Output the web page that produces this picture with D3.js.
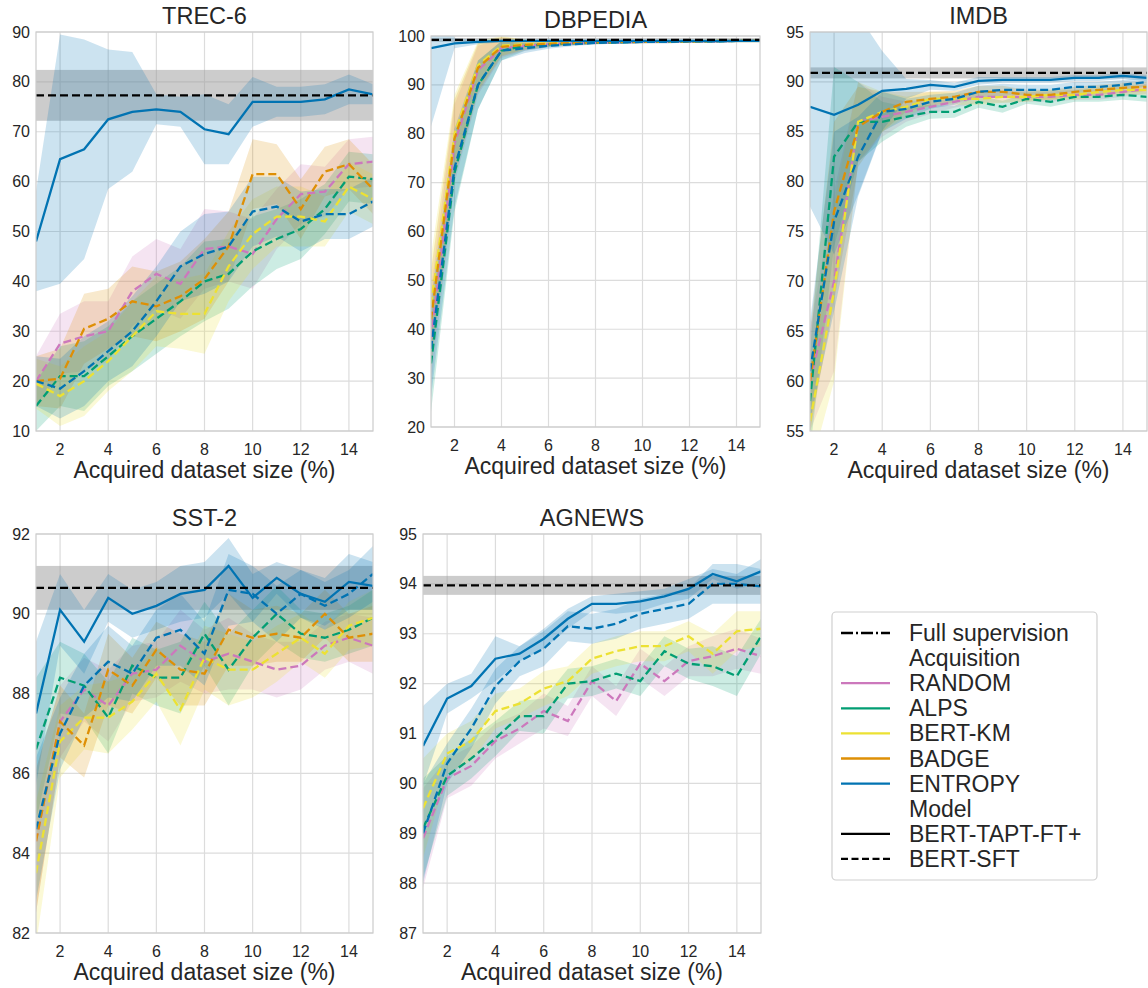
<!DOCTYPE html>
<html><head><meta charset="utf-8">
<script src="https://cdn.jsdelivr.net/npm/d3@7"></script>
<style>body{margin:0;background:#fff}text{font-family:Arial,"Liberation Sans",sans-serif;fill:#262626}</style>
</head><body><svg id="c" width="1148" height="988"></svg>
<script>
const xs = [1,2,3,4,5,6,7,8,9,10,11,12,13,14,15];
const xTicks = [2,4,6,8,10,12,14];
const acquisitions = ["RANDOM","ALPS","BERT-KM","BADGE","ENTROPY"];
const colors = ["#cc78bc","#029e73","#ece133","#de8f05","#0173b2"];

// TREC-6
const trecRandom = [20,27.5,29,30,38,41.5,39.5,46.5,47,45.5,52.5,57.5,58,63.5,64];
const trecAlps   = [15,21,21,25,29,32.5,36,40,41.5,46,48.5,50.5,54.5,61,60.5];
const trecKm     = [19.5,17,20,24,29,34,33.5,33.5,43,49.5,53,53,52,59,56.5];
const trecBadge  = [20,20.5,30.5,32.5,36,35,37,40.5,47,61.5,61.5,54.5,62,63.5,58.5];
const trecEnt    = [20,18.5,22,26,30,36,43,45.5,47,54,55,52,53.5,53.5,56];
const trecTapt   = [48,64.5,66.5,72.5,74,74.5,74,70.5,69.5,76,76,76,76.5,78.5,77.5];
const trecSpread = [5,6,7,6,7,7,7,8,7,7,6,6,5,5,5];
const trecTaptSpread = [10,25,22,14,12,3,3,7,6,5,3,3,3,3,2];
// DBPEDIA
const dbRandom = [38,78,93,97.5,98,98.3,98.5,98.6,98.7,98.8,98.8,98.9,98.9,99,99];
const dbAlps   = [33,72,90,97,98,98.3,98.5,98.6,98.7,98.8,98.8,98.9,98.9,99,99];
const dbKm     = [45,80,94,98,98.3,98.5,98.6,98.7,98.8,98.8,98.9,98.9,99,99,99];
const dbBadge  = [42,79,93.5,97.8,98.2,98.4,98.6,98.7,98.8,98.8,98.9,98.9,99,99,99];
const dbEnt    = [36,73,90,97,97.5,98,98.3,98.6,98.7,98.8,98.8,98.9,98.9,99,99];
const dbTapt   = [97.5,98.5,98.8,99,99,99,99,99,99,99,99,99,99,99,99];
const dbSpread = [10,8,5,2,1,0.6,0.4,0.3,0.3,0.3,0.3,0.3,0.3,0.3,0.3];
const dbTaptSpread = [16,1,0.5,0.3,0.2,0.2,0.2,0.2,0.2,0.2,0.2,0.2,0.2,0.2,0.2];
// IMDB
const imRandom = [60,70,86,86.5,87,87.5,88,88.5,88.5,88.5,88.5,88.7,88.7,89,89.3];
const imAlps   = [58,82.5,86,86,86.5,87,87,88,87.5,88.3,88,88.5,88.5,88.7,88.5];
const imKm     = [56,69,86,87,87.5,88.3,88.3,88.3,88.5,88.5,88.7,88.7,89,89.2,89.2];
const imBadge  = [60,77,85.5,87,88,88.3,88.5,89,89,88.7,88.7,89,89.2,89.4,89.5];
const imEnt    = [61,76,82.5,87,87.3,88,88.3,89,89.2,89.2,89.2,89.5,89.5,89.7,90];
const imTapt   = [87.5,86.7,87.7,89.1,89.3,89.7,89.5,90.1,90.2,90.2,90.2,90.4,90.4,90.6,90.4];
const imSpread = [5,9,4,2,1,0.7,0.6,0.6,0.6,0.5,0.5,0.5,0.5,0.5,0.5];
const imTaptSpread = [10,14,9,4,1,0.5,0.4,0.4,0.3,0.3,0.3,0.3,0.3,0.3,0.3];
// SST-2
const sstRandom = [84.3,87.3,88.1,87.7,88.5,88.6,89.2,88.8,89,88.8,88.6,88.7,89.2,89.4,89.2];
const sstAlps   = [86.6,88.4,88.2,87.4,88.7,88.4,88.4,89.5,88.6,89.4,90,89.5,89.4,89.6,89.9];
const sstKm     = [83.5,86.8,87.4,87.4,87.8,88.5,87.6,88.9,88.6,88.6,89,89.4,89,89.7,89.9];
const sstBadge  = [84.3,87.3,86.7,88.6,88.2,89.1,88.6,88.5,89.6,89.4,89.5,89.4,90,89.4,89.5];
const sstEnt    = [84.6,87,88.2,88.8,88.5,89.4,89.6,89,90.6,90.5,90,90.5,90.2,90.5,91];
const sstTapt   = [87.5,90.1,89.3,90.4,90,90.2,90.5,90.6,91.2,90.4,90.9,90.5,90.3,90.8,90.7];
const sstSpread = [1.8,0.9,0.8,0.9,0.7,0.7,0.9,0.8,0.9,0.7,0.7,0.6,0.6,0.6,0.7];
const sstTaptSpread = [1.8,0.9,0.8,0.6,0.6,0.6,0.7,0.7,0.7,0.6,0.4,0.6,0.6,0.7,0.6];
// AGNEWS
const agRandom = [88.9,90.1,90.35,90.85,91.1,91.45,91.25,92.05,91.65,92.4,92.05,92.45,92.55,92.7,92.55];
const agAlps   = [89.1,90.15,90.5,90.9,91.35,91.35,92,92.05,92.2,92.05,92.65,92.4,92.35,92.15,92.95];
const agKm     = [89.5,90.6,90.85,91.45,91.6,91.9,92.05,92.5,92.65,92.75,92.75,92.95,92.6,93.05,93.1];
const agEnt    = [89,90.4,91.1,91.95,92.45,92.7,93.15,93.1,93.2,93.4,93.5,93.6,94,94,93.95];
const agTapt   = [90.75,91.7,91.95,92.5,92.6,92.9,93.3,93.6,93.6,93.65,93.75,93.9,94.2,94.05,94.25];
const agSpread = [1,0.4,0.4,0.35,0.3,0.35,0.3,0.3,0.3,0.3,0.3,0.3,0.4,0.4,0.35];
const agTaptSpread = [0.8,0.3,0.25,0.45,0.15,0.2,0.2,0.15,0.2,0.2,0.15,0.2,0.1,0.15,0.25];

const titles = ["TREC-6","DBPEDIA","IMDB","SST-2","AGNEWS"];
const yDomains = [[10,90],[20,100],[55,95],[82,92],[87,95]];
const yTickSteps = [10,10,5,2,1];
const fullMean = [77.3,99.2,90.9,90.65,93.97];
const fullSpread = [5.1,0.4,0.55,0.55,0.19];

const panels = [
 {sft:[trecRandom,trecAlps,trecKm,trecBadge,trecEnt],tapt:trecTapt,sp:trecSpread,tsp:trecTaptSpread,box:[36,373,32,431]},
 {sft:[dbRandom,dbAlps,dbKm,dbBadge,dbEnt],tapt:dbTapt,sp:dbSpread,tsp:dbTaptSpread,box:[431,760,36,427]},
 {sft:[imRandom,imAlps,imKm,imBadge,imEnt],tapt:imTapt,sp:imSpread,tsp:imTaptSpread,box:[810,1147,32,431]},
 {sft:[sstRandom,sstAlps,sstKm,sstBadge,sstEnt],tapt:sstTapt,sp:sstSpread,tsp:sstTaptSpread,box:[36,373,534,933]},
 {sft:[agRandom,agAlps,agKm,null,agEnt],tapt:agTapt,sp:agSpread,tsp:agTaptSpread,box:[423,761,534,933]}
];

const svg = d3.select("#c");
panels.forEach((p,i)=>{
  const [l,r,t,b] = p.box;
  const x = d3.scaleLinear().domain([1,15]).range([l,r]);
  const y = d3.scaleLinear().domain(yDomains[i]).range([b,t]);
  const g = svg.append("g");
  const cid = "clip"+i;
  g.append("clipPath").attr("id",cid).append("rect").attr("x",l).attr("y",t).attr("width",r-l).attr("height",b-t);
  const yt = d3.range(yDomains[i][0],yDomains[i][1]+0.001,yTickSteps[i]);
  g.selectAll(".gy").data(yt).join("line").attr("x1",l).attr("x2",r).attr("y1",d=>y(d)).attr("y2",d=>y(d)).attr("stroke","#dcdcdc").attr("stroke-width",1.2);
  g.selectAll(".gx").data(xTicks).join("line").attr("y1",t).attr("y2",b).attr("x1",d=>x(d)).attr("x2",d=>x(d)).attr("stroke","#dcdcdc").attr("stroke-width",1.2);
  const c = g.append("g").attr("clip-path",`url(#${cid})`);
  c.append("rect").attr("x",l).attr("width",r-l).attr("y",y(fullMean[i]+fullSpread[i])).attr("height",y(fullMean[i]-fullSpread[i])-y(fullMean[i]+fullSpread[i])).attr("fill","#999").attr("opacity",0.5);
  const area = (vals,sp)=>d3.area().x((d,k)=>x(xs[k])).y0((d,k)=>y(d-sp[k])).y1((d,k)=>y(d+sp[k]))(vals);
  const line = vals=>d3.line().x((d,k)=>x(xs[k])).y(d=>y(d))(vals);
  p.sft.forEach((s,j)=>{ if(s) c.append("path").attr("d",area(s,p.sp)).attr("fill",colors[j]).attr("opacity",0.2);});
  c.append("path").attr("d",area(p.tapt,p.tsp)).attr("fill",colors[4]).attr("opacity",0.2);
  p.sft.forEach((s,j)=>{ if(s) c.append("path").attr("d",line(s)).attr("fill","none").attr("stroke",colors[j]).attr("stroke-width",2.3).attr("stroke-dasharray","8,4");});
  c.append("path").attr("d",line(p.tapt)).attr("fill","none").attr("stroke",colors[4]).attr("stroke-width",2.3);
  c.append("line").attr("x1",l).attr("x2",r).attr("y1",y(fullMean[i])).attr("y2",y(fullMean[i])).attr("stroke","#000").attr("stroke-width",2.3).attr("stroke-dasharray","8,4");
  g.append("rect").attr("x",l).attr("y",t).attr("width",r-l).attr("height",b-t).attr("fill","none").attr("stroke","#cccccc").attr("stroke-width",1.2);
  g.selectAll(".ty").data(yt).join("text").attr("x",l-6).attr("y",d=>y(d)).attr("dy","0.35em").attr("text-anchor","end").attr("font-size",16).text(d=>d);
  g.selectAll(".tx").data(xTicks).join("text").attr("x",d=>x(d)).attr("y",b+24).attr("text-anchor","middle").attr("font-size",16).text(d=>d);
  g.append("text").attr("x",(l+r)/2).attr("y",b+47).attr("text-anchor","middle").attr("font-size",23).text("Acquired dataset size (%)");
  g.append("text").attr("x",(l+r)/2).attr("y",t-8).attr("text-anchor","middle").attr("font-size",23.5).text(titles[i]);
});

const lg = svg.append("g");
lg.append("rect").attr("x",832).attr("y",612).attr("width",265).attr("height",268).attr("rx",4).attr("fill","#fff").attr("stroke","#d0d0d0").attr("stroke-width",1.2);
const items = [
 {t:"Full supervision",c:"#000",dash:"12,3,2,3"},
 {t:"Acquisition",c:null},
 ...acquisitions.map((a,j)=>({t:a,c:colors[j],dash:null})),
 {t:"Model",c:null},
 {t:"BERT-TAPT-FT+",c:"#000",dash:null},
 {t:"BERT-SFT",c:"#000",dash:"7,3.5"}
];
items.forEach((it,k)=>{
  const yy = 633 + k*25.1;
  if(it.c) lg.append("line").attr("x1",841).attr("x2",890).attr("y1",yy).attr("y2",yy).attr("stroke",it.c).attr("stroke-width",2.3).attr("stroke-dasharray",it.dash);
  lg.append("text").attr("x",909).attr("y",yy).attr("dy","0.35em").attr("font-size",23).text(it.t);
});
</script></body></html>
